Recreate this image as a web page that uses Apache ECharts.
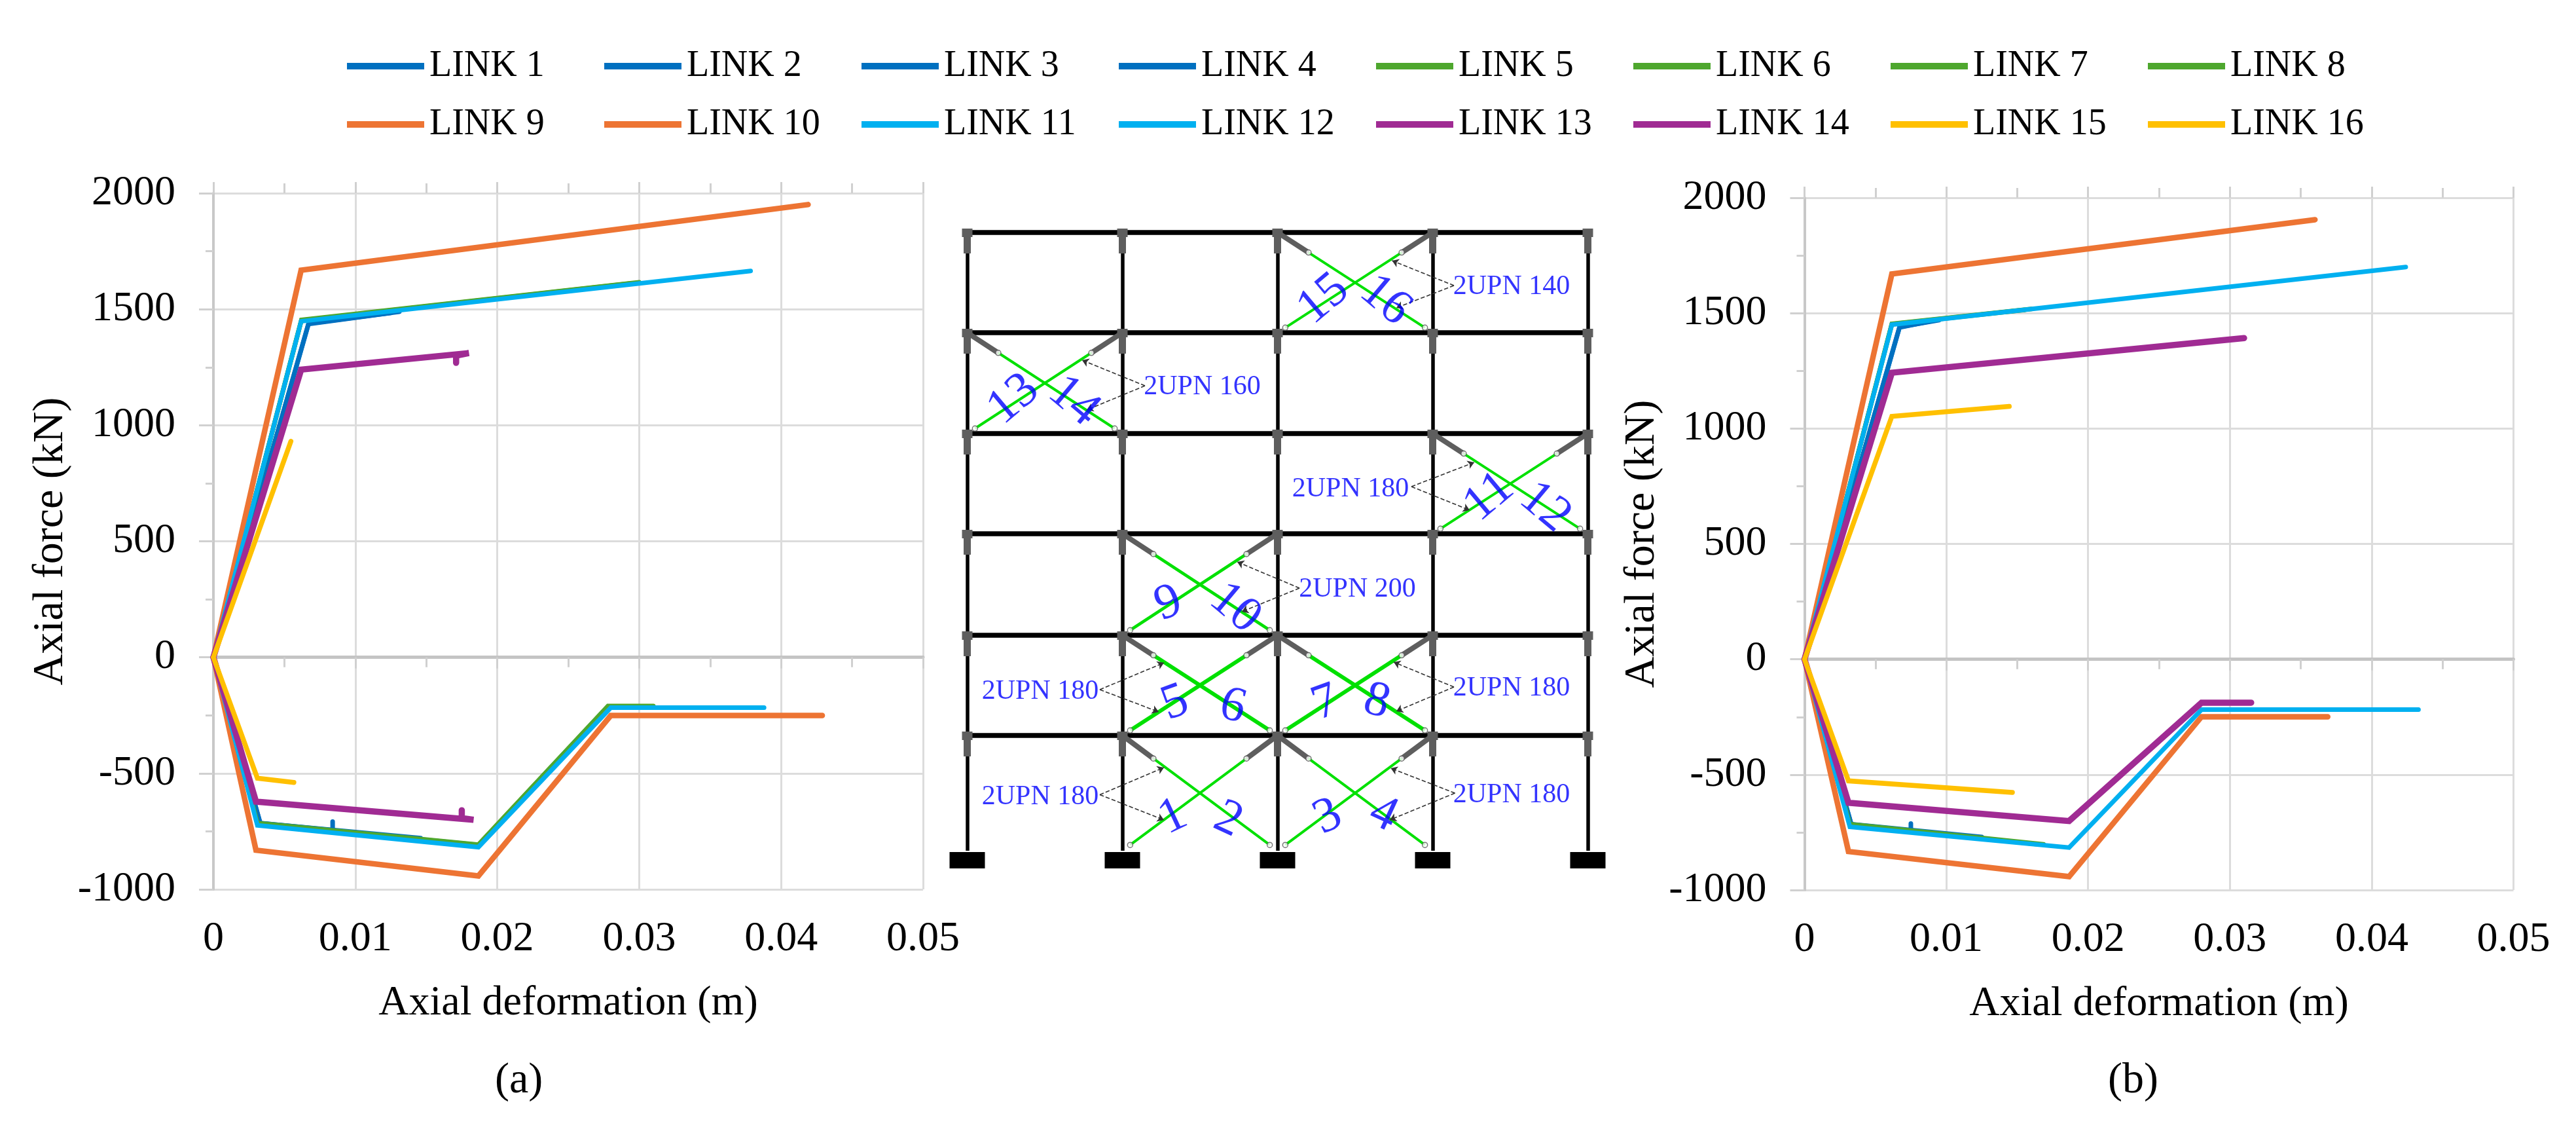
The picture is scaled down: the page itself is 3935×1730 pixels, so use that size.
<!DOCTYPE html>
<html><head><meta charset="utf-8">
<style>html,body{margin:0;padding:0;background:#fff}#c{width:3935px;height:1730px}</style>
<script src="https://cdn.jsdelivr.net/npm/echarts@6/dist/echarts.min.js"></script>
</head><body><div id="c"></div>
<script>
// ---------- data ----------
const linkNames = ['LINK 1','LINK 2','LINK 3','LINK 4','LINK 5','LINK 6','LINK 7','LINK 8','LINK 9','LINK 10','LINK 11','LINK 12','LINK 13','LINK 14','LINK 15','LINK 16'];
const linkColors = ['#0070C0','#0070C0','#0070C0','#0070C0','#4EA72E','#4EA72E','#4EA72E','#4EA72E','#ED7433','#ED7433','#00B0F0','#00B0F0','#A02B93','#A02B93','#FFC000','#FFC000'];
const linkWidths = [7,7,7,7,7,7,7,7,8.5,8.5,7,7,9.5,9.5,7.5,7.5];
const xTickLabels = ['0','0.01','0.02','0.03','0.04','0.05'];

const a1=[[0,0],[.0067,1438],[.0131,1489]];
const a2=[[0,0],[.0033,-715],[.0146,-779]];
const a3=[[0,0],[.0067,1436],[.0125,1484]];
const a4=[[0,0],[.0033,-714],[.0084,-745],[.0084,-708]];
const a5=[[0,0],[.0062,1454],[.0300,1616]];
const a6=[[0,0],[.0031,-714],[.01867,-807],[.0278,-210],[.0310,-210]];
const a7=[[0,0],[.0062,1452],[.0295,1612]];
const a8=[[0,0],[.0031,-716],[.01867,-809],[.0278,-212],[.0305,-212]];
const a9=[[0,0],[.00618,1668],[.0419,1951]];
const a10=[[0,0],[.0030,-831],[.01867,-942],[.0280,-251],[.0429,-251]];
const a11=[[0,0],[.00618,1448],[.03785,1665]];
const a12=[[0,0],[.0031,-724],[.01867,-818],[.0280,-217],[.0388,-217]];
const a13=[[0,0],[.00618,1240],[.0180,1311],[.0171,1300],[.0171,1269]];
const a14=[[0,0],[.0030,-622],[.01833,-700],[.0175,-693],[.0175,-659]];
const a15=[[0,0],[.00546,931]];
const a16=[[0,0],[.0031,-521],[.00567,-539]];

const b1=[[0,0],[.0067,1440],[.0095,1470]];
const b2=[[0,0],[.0033,-716],[.0075,-743],[.0075,-712]];
const b3=[[0,0],[.0067,1438],[.0088,1464]];
const b4=[[0,0],[.0033,-715],[.0125,-770]];
const b5=[[0,0],[.00616,1454],[.0160,1518]];
const b6=[[0,0],[.0032,-715],[.01686,-802]];
const b7=[[0,0],[.00616,1452],[.0155,1514]];
const b8=[[0,0],[.0032,-717],[.0165,-802]];
const b9=[[0,0],[.00616,1670],[.0360,1905]];
const b10=[[0,0],[.0031,-833],[.01866,-942],[.0280,-249],[.0369,-249]];
const b11=[[0,0],[.00616,1450],[.0424,1700]];
const b12=[[0,0],[.0032,-726],[.01866,-816],[.0280,-218],[.0433,-218]];
const b13=[[0,0],[.00616,1242],[.0310,1392]];
const b14=[[0,0],[.0031,-622],[.01866,-701],[.0280,-188],[.0315,-188]];
const b15=[[0,0],[.00616,1053],[.01444,1096]];
const b16=[[0,0],[.0031,-527],[.01466,-577]];

const panelA=[a1,a2,a3,a4,a5,a6,a7,a8,a9,a10,a11,a12,a13,a14,a15,a16];
const panelB=[b1,b2,b3,b4,b5,b6,b7,b8,b9,b10,b11,b12,b13,b14,b15,b16];

// ---------- frame diagram (its own hidden axes) ----------
const columnX=[0,237,474,711,948];
const levelY=[0,176,329,484,637,791,944];
// [bay, storey, green width]
const bracedBays=[[2,5,4],[0,4,4],[3,3,4],[1,2,4.5],[1,1,6],[2,1,6],[1,0,4],[2,0,4]];
const sizeLabels=[['2UPN 140',831.5,861],['2UPN 160',359,708],['2UPN 180',585.5,552],['2UPN 200',596,399.5],['2UPN 180',111.5,243],['2UPN 180',831.5,248],['2UPN 180',111.5,82],['2UPN 180',831.5,85.5]];
// [apex x, apex y, target1 x, y, target2 x, y]
const arrows=[[743.5,863,649,901,655.5,829],[271.5,710,175.5,749,182.5,673],[678.5,556,774.5,593,767.5,520],[507.5,401,412.5,441,419.5,365],[202.5,246,300.5,287,292.5,212],[743.5,250,651.5,288,655.5,213],[202.5,85.5,300.5,127,300.5,47],[745,88,647,126,645.5,47]];
// [text, x, y, rotation]
const braceNumbers=[['15',544.5,842,40],['16',638.5,840,-40],['13',71,689,40],['14',162.5,686,-40],['11',797.5,540,40],['12',882.5,524,-40],['9',307.5,377,20],['10',409,370,-40],['5',317.5,225,20],['6',405.5,219.5,-15],['7',547.5,225,20],['8',625.5,227,-15],['1',314.5,51,25],['2',398.5,47,-25],['3',551,51,25],['4',635.5,55,-25]];

const SERIF='"Liberation Serif","Times New Roman",serif';
const GRAY='#5e5e5e';

function lineSeries(panel,xi,yi){
  return panel.map((d,i)=>({type:'line',name:linkNames[i],xAxisIndex:xi,yAxisIndex:yi,data:d,showSymbol:false,symbol:'none',
    lineStyle:{color:linkColors[i],width:linkWidths[i],cap:'round',join:'miter'},itemStyle:{color:linkColors[i]},animation:false,clip:false}));
}
function xAxes(gridIndex,margin,gap){
  const gridStyle={show:true,lineStyle:{color:'#dcdcdc',width:3}};
  const base={type:'value',gridIndex,min:0,max:0.05,interval:0.01};
  return [
    Object.assign({},base,{position:'bottom',axisLine:{show:true,onZero:true,lineStyle:{color:'#c4c4c4',width:5}},
      axisTick:{show:true,length:17,lineStyle:{color:'#d0d0d0',width:3}},
      minorTick:{show:true,splitNumber:2,length:15,lineStyle:{color:'#d0d0d0',width:3}},
      splitLine:gridStyle,
      axisLabel:{show:true,margin,fontFamily:SERIF,fontSize:64,color:'#000',formatter:v=>xTickLabels[Math.round(v/0.01)]},
      name:'Axial deformation (m)',nameLocation:'middle',nameGap:gap,nameTextStyle:{fontFamily:SERIF,fontSize:64,color:'#000'}}),
    Object.assign({},base,{position:'top',axisLine:{show:false,onZero:true},
      axisTick:{show:true,length:17,lineStyle:{color:'#d0d0d0',width:3}},
      minorTick:{show:true,splitNumber:2,length:15,lineStyle:{color:'#d0d0d0',width:3}},
      splitLine:{show:false},axisLabel:{show:false}})
  ];
}
function yAxis(gridIndex){
  return {type:'value',gridIndex,min:-1000,max:2000,interval:500,
    axisLine:{show:true,onZero:true,lineStyle:{color:'#c8c8c8',width:4}},
    axisTick:{show:true,length:22,lineStyle:{color:'#d0d0d0',width:3}},
    minorTick:{show:true,splitNumber:2,length:12,lineStyle:{color:'#d0d0d0',width:3}},
    splitLine:{show:true,lineStyle:{color:'#dcdcdc',width:3}},
    axisLabel:{margin:58,fontFamily:SERIF,fontSize:64,color:'#000',formatter:v=>String(v)},
    name:'Axial force (kN)',nameLocation:'middle',nameGap:215,nameTextStyle:{fontFamily:SERIF,fontSize:66,color:'#000'}};
}
function seg(x1,y1,x2,y2){return {coords:[[x1,y1],[x2,y2]]};}
function lines(data,color,width,z,extra){
  return Object.assign({type:'lines',coordinateSystem:'cartesian2d',xAxisIndex:4,yAxisIndex:3,data,polyline:false,silent:true,animation:false,clip:false,z,
    lineStyle:{color,width,opacity:1,curveness:0}},extra||{});
}

const columns=columnX.map(x=>seg(x,0,x,levelY[levelY.length-1]));
const beams=levelY.slice(1).map(y=>seg(columnX[0]-5,y,columnX[columnX.length-1]+5,y));
const hinges=[],joints=[];
columnX.forEach(x=>levelY.slice(1).forEach(y=>{hinges.push(seg(x,y+6,x,y-32));joints.push(seg(x-8,y,x+8,y));}));
const base=columnX.map(x=>seg(x-27,-14,x+27,-14));
const grayBraces=[],circles=[],greenSeries=[];
bracedBays.forEach(([bay,st,w])=>{
  const xl=columnX[bay],xr=columnX[bay+1],yb=levelY[st],yt=levelY[st+1];
  const at=(x0,x1,t)=>[x0+(x1-x0)*t,yt+(yb-yt)*t];
  [[xl,xr],[xr,xl]].forEach(([x0,x1])=>{
    const p0=at(x0,x1,0),p1=at(x0,x1,.2),p2=at(x0,x1,.95);
    grayBraces.push({coords:[p0,p1]});
    greenSeries.push(lines([{coords:[p1,p2]}],'#00E000',w,4));
    circles.push(p1,p2);
  });
});
const arrowData=[];
arrows.forEach(([ax,ay,x1,y1,x2,y2])=>{arrowData.push(seg(ax,ay,x1,y1),seg(ax,ay,x2,y2));});

const diagram=[
  lines(columns,'#000',5.5,2),
  lines(hinges,GRAY,11,3),
  lines(beams,'#000',7.5,3),
  lines(joints,GRAY,13,3),
  lines(base,'#000',25,3),
  lines(grayBraces,GRAY,8,4),
  ...greenSeries,
  {type:'scatter',xAxisIndex:4,yAxisIndex:3,data:circles,symbol:'circle',symbolSize:8,itemStyle:{color:'#fff',borderColor:'#555',borderWidth:1.5},z:6,silent:true,animation:false,clip:false},
  lines(arrowData,'#333',1.6,7,{symbol:['none','arrow'],symbolSize:10,lineStyle:{color:'#333',width:1.6,type:'dashed',opacity:1}}),
  {type:'scatter',xAxisIndex:4,yAxisIndex:3,symbolSize:1,itemStyle:{color:'transparent'},z:8,silent:true,animation:false,clip:false,
    data:sizeLabels.map(l=>({name:l[0],value:[l[1],l[2]]})),
    label:{show:true,position:'inside',formatter:p=>p.name,fontFamily:SERIF,fontSize:42,color:'#0000ff'}},
  {type:'scatter',xAxisIndex:4,yAxisIndex:3,symbolSize:1,itemStyle:{color:'transparent'},z:8,silent:true,animation:false,clip:false,
    data:braceNumbers.map(l=>({name:l[0],value:[l[1],l[2]],label:{rotate:l[3]}})),
    label:{show:true,position:'inside',formatter:p=>p.name,fontFamily:SERIF,fontSize:76,color:'#0000ff'}}
];

const legends=linkNames.map((n,i)=>({data:[{name:n,icon:'rect'}],left:530+393*(i%8),top:i<8?73:162,padding:0,
  itemWidth:118,itemHeight:10,textStyle:{fontFamily:SERIF,fontSize:56,color:'#000',padding:[0,0,0,3]},selectedMode:false}));

const option={
  backgroundColor:'#fff',animation:false,
  legend:legends,
  grid:[{left:326,top:295,width:1084,height:1063,outerBoundsMode:'none'},{left:2756.5,top:302,width:1083,height:1057,outerBoundsMode:'none'},{left:1427.5,top:355,width:1050,height:984,outerBoundsMode:'none'}],
  xAxis:[...xAxes(0,44,142),...xAxes(1,44,142),{type:'value',gridIndex:2,min:-50,max:1000,show:false}],
  yAxis:[yAxis(0),yAxis(1),{type:'value',gridIndex:2,min:0,max:1,show:false},{type:'value',gridIndex:2,min:-40,max:944,show:false}],
  graphic:[
    {type:'text',left:789-33,top:1655-37,style:{text:'(a)',font:'66px '+SERIF,fill:'#000'}},
    {type:'text',left:3253-33,top:1655-37,style:{text:'(b)',font:'66px '+SERIF,fill:'#000'}}
  ],
  series:[...lineSeries(panelA,0,0),...lineSeries(panelB,2,1),...diagram]
};
const chart=echarts.init(document.getElementById('c'),null,{renderer:'canvas'});
chart.setOption(option);
</script></body></html>
